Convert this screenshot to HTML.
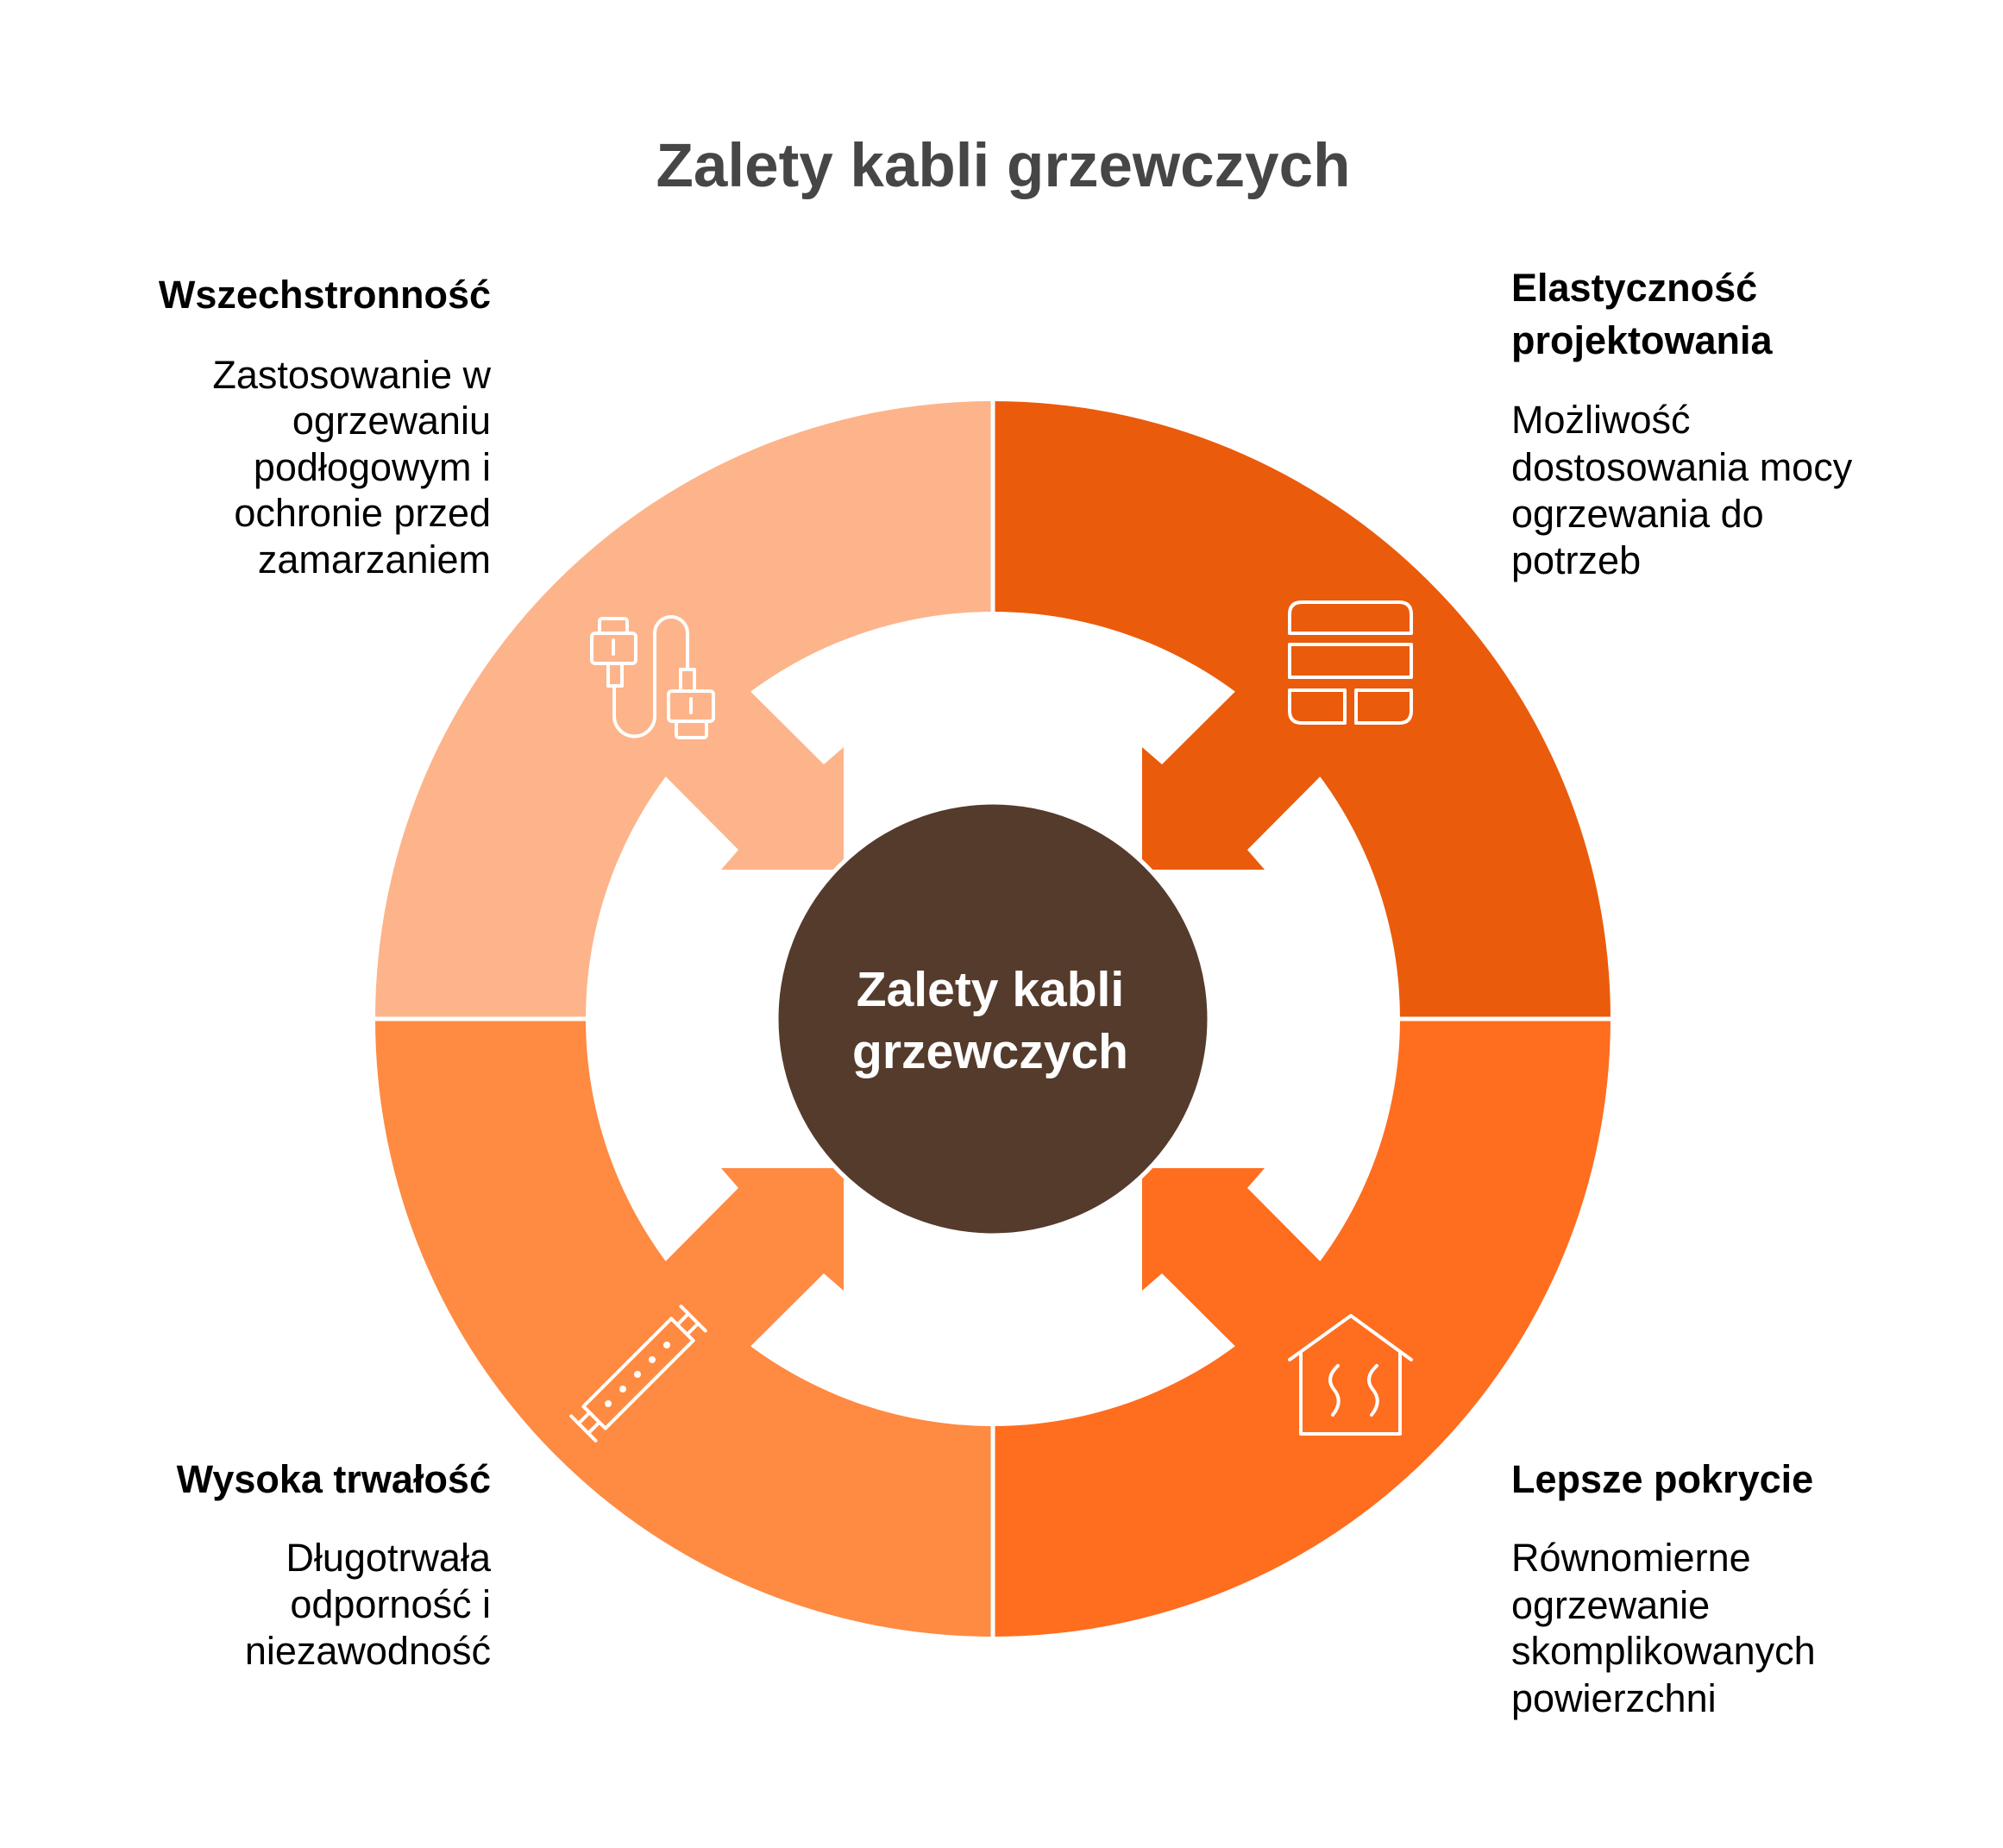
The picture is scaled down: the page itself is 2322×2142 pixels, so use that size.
<!DOCTYPE html>
<html><head><meta charset="utf-8"><style>
html,body{margin:0;padding:0;background:#fff;}
svg{display:block;}
text{font-family:"Liberation Sans",sans-serif;}
</style></head><body>
<svg width="2322" height="2142" viewBox="0 0 2322 2142" xmlns="http://www.w3.org/2000/svg">
<rect width="2322" height="2142" fill="#fff"/>
<path d="M435,1181 A716,716 0 0 1 1151,465 L1151,709 A472,472 0 0 0 679,1181 Z" fill="#FDB48A"/>
<path d="M1151,465 A716,716 0 0 1 1867,1181 L1623,1181 A472,472 0 0 0 1151,709 Z" fill="#EA5B0C"/>
<path d="M1867,1181 A716,716 0 0 1 1151,1897 L1151,1653 A472,472 0 0 0 1623,1181 Z" fill="#FF6D1F"/>
<path d="M1151,1897 A716,716 0 0 1 435,1181 L679,1181 A472,472 0 0 0 1151,1653 Z" fill="#FF8A42"/>
<g transform="translate(1151,1181)">
<polygon points="-360,-458 -196,-295 -173,-315 -173,-173 -315,-173 -295,-196 -458,-360" fill="#FDB48A"/>
<polygon transform="scale(-1,1)" points="-360,-458 -196,-295 -173,-315 -173,-173 -315,-173 -295,-196 -458,-360" fill="#EA5B0C"/>
<polygon transform="scale(-1,-1)" points="-360,-458 -196,-295 -173,-315 -173,-173 -315,-173 -295,-196 -458,-360" fill="#FF6D1F"/>
<polygon transform="scale(1,-1)" points="-360,-458 -196,-295 -173,-315 -173,-173 -315,-173 -295,-196 -458,-360" fill="#FF8A42"/>
</g>
<line x1="1151" y1="460" x2="1151" y2="712" stroke="#fff" stroke-width="5"/>
<line x1="1151" y1="1650" x2="1151" y2="1902" stroke="#fff" stroke-width="5"/>
<line x1="430" y1="1181" x2="682" y2="1181" stroke="#fff" stroke-width="5"/>
<line x1="1620" y1="1181" x2="1872" y2="1181" stroke="#fff" stroke-width="5"/>
<circle cx="1151" cy="1181" r="251" fill="#553B2C" stroke="#fff" stroke-width="5"/>
<text x="1148" y="1166" font-size="57" font-weight="bold" fill="#fff" text-anchor="middle">Zalety kabli</text>
<text x="1148" y="1238" font-size="57" font-weight="bold" fill="#fff" text-anchor="middle">grzewczych</text>
<g fill="none" stroke="#fff" stroke-width="4" stroke-linejoin="round" stroke-linecap="round">
 <rect x="695" y="717" width="32" height="17" rx="3"/>
 <rect x="686" y="734" width="51" height="35" rx="4"/>
 <line x1="711" y1="742" x2="711" y2="758"/>
 <rect x="705" y="769" width="16" height="26"/>
 <path d="M712,795 L712,830 A23,23 0 0 0 759,830 L759,734 A19,19 0 0 1 797,734 L797,776"/>
 <rect x="789" y="776" width="16" height="25"/>
 <rect x="775" y="801" width="52" height="35" rx="4"/>
 <line x1="801" y1="810" x2="801" y2="826"/>
 <rect x="784" y="836" width="35" height="19" rx="3"/>
 <path d="M1495,734 L1495,712 Q1495,698 1509,698 L1622,698 Q1636,698 1636,712 L1636,734 Z"/>
 <rect x="1495" y="747" width="141" height="38"/>
 <path d="M1495,800 L1559,800 L1559,838 L1509,838 Q1495,838 1495,824 Z"/>
 <path d="M1572,800 L1636,800 L1636,824 Q1636,838 1622,838 L1572,838 Z"/>
 <g transform="translate(740,1592) rotate(-45)">
  <rect x="-72" y="-18" width="144" height="36"/>
  <line x1="-72" y1="-8" x2="-90" y2="-8"/><line x1="-72" y1="8" x2="-90" y2="8"/>
  <line x1="-90" y1="-20" x2="-90" y2="20"/>
  <line x1="72" y1="-8" x2="90" y2="-8"/><line x1="72" y1="8" x2="90" y2="8"/>
  <line x1="90" y1="-20" x2="90" y2="20"/>
 </g>
 <g fill="#fff" stroke="none">
  <circle cx="705" cy="1627" r="4"/><circle cx="722" cy="1610" r="4"/><circle cx="739" cy="1593" r="4"/><circle cx="756" cy="1576" r="4"/><circle cx="773" cy="1559" r="4"/>
 </g>
 <polyline points="1495,1576 1566,1525 1636,1576"/>
 <polyline points="1508,1568 1508,1662 1623,1662 1623,1568"/>
 <path d="M1551,1583 Q1536,1597 1546,1610 Q1558,1624 1545,1640"/>
 <path d="M1596,1583 Q1581,1597 1591,1610 Q1603,1624 1590,1640"/>
</g>
<text x="1163" y="216" font-size="71" font-weight="bold" fill="#464646" text-anchor="middle">Zalety kabli grzewczych</text>
<g font-size="45" font-weight="bold" fill="#000" text-anchor="end">
 <text x="569" y="357">Wszechstronność</text>
 <text x="569" y="1730">Wysoka trwałość</text>
</g>
<g font-size="45" fill="#000" text-anchor="end">
 <text x="569" y="450">Zastosowanie w</text>
 <text x="569" y="503">ogrzewaniu</text>
 <text x="569" y="557">podłogowym i</text>
 <text x="569" y="610">ochronie przed</text>
 <text x="569" y="664">zamarzaniem</text>
 <text x="569" y="1821">Długotrwała</text>
 <text x="569" y="1875">odporność i</text>
 <text x="569" y="1929">niezawodność</text>
</g>
<g font-size="45" font-weight="bold" fill="#000">
 <text x="1752" y="349">Elastyczność</text>
 <text x="1752" y="410">projektowania</text>
 <text x="1752" y="1730">Lepsze pokrycie</text>
</g>
<g font-size="45" fill="#000">
 <text x="1752" y="502">Możliwość</text>
 <text x="1752" y="557">dostosowania mocy</text>
 <text x="1752" y="611">ogrzewania do</text>
 <text x="1752" y="665">potrzeb</text>
 <text x="1752" y="1821">Równomierne</text>
 <text x="1752" y="1876">ogrzewanie</text>
 <text x="1752" y="1929">skomplikowanych</text>
 <text x="1752" y="1984">powierzchni</text>
</g>
</svg>
</body></html>
